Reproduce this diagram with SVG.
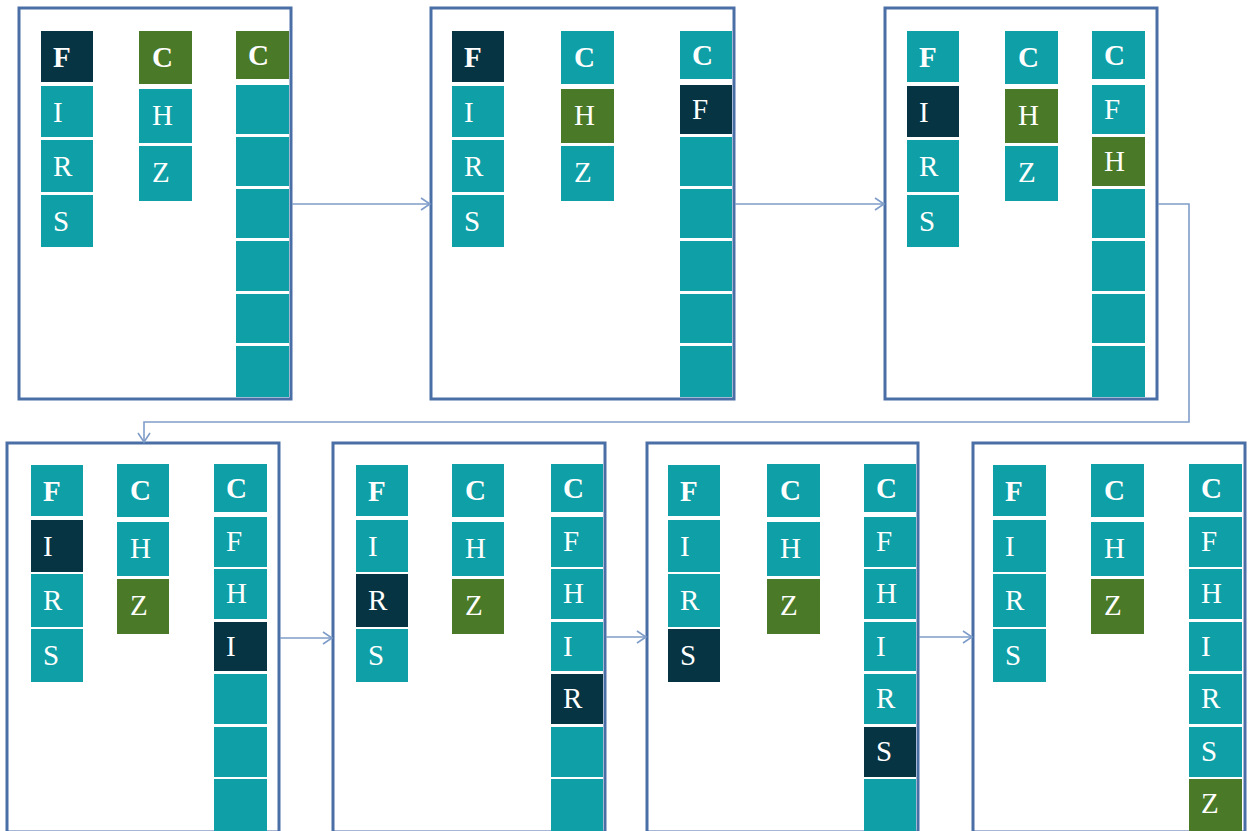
<svg xmlns="http://www.w3.org/2000/svg" width="1249" height="831" viewBox="0 0 1249 831">
<style>
.fr{fill:#fff;stroke:#4a6ea6;stroke-width:3}
.t{fill:#0f9fa6}
.d{fill:#073443}
.g{fill:#4a7a28}
.l{font-family:"Liberation Serif","DejaVu Serif",serif;font-size:29px;fill:#fff}
.b{font-weight:bold}
.cn{fill:none;stroke:#7f9dc9;stroke-width:1.6}
</style>
<defs>
<marker id="ah" markerUnits="userSpaceOnUse" markerWidth="12" markerHeight="14" refX="10" refY="7" orient="auto">
<path d="M1,1 L10,7 L1,13" fill="none" stroke="#7f9dc9" stroke-width="1.6"/>
</marker>
</defs>
<rect width="1249" height="831" fill="#fff"/>

<g id="p1">
<rect class="fr" x="19" y="8" width="272" height="391"/>
<rect class="d" x="41" y="31" width="52" height="51"/><text class="l b" x="53" y="67">F</text>
<rect class="t" x="41" y="86" width="52" height="51"/><text class="l" x="53" y="122">I</text>
<rect class="t" x="41" y="140" width="52" height="52"/><text class="l" x="53" y="176">R</text>
<rect class="t" x="41" y="195" width="52" height="52"/><text class="l" x="53" y="231">S</text>
<rect class="g" x="139" y="31" width="53" height="53"/><text class="l b" x="152" y="67">C</text>
<rect class="t" x="139" y="89" width="53" height="54"/><text class="l" x="152" y="125">H</text>
<rect class="t" x="139" y="146" width="53" height="55"/><text class="l" x="152" y="182">Z</text>
<rect class="g" x="236" y="31" width="53" height="48"/><text class="l b" x="248" y="65">C</text>
<rect class="t" x="236" y="85" width="53" height="49"/>
<rect class="t" x="236" y="137" width="53" height="49"/>
<rect class="t" x="236" y="189" width="53" height="49"/>
<rect class="t" x="236" y="241" width="53" height="50"/>
<rect class="t" x="236" y="294" width="53" height="49"/>
<rect class="t" x="236" y="346" width="53" height="51"/>
</g>

<g id="p2">
<rect class="fr" x="431" y="8" width="303" height="391"/>
<rect class="d" x="452" y="31" width="52" height="51"/><text class="l b" x="464" y="67">F</text>
<rect class="t" x="452" y="86" width="52" height="51"/><text class="l" x="464" y="122">I</text>
<rect class="t" x="452" y="140" width="52" height="52"/><text class="l" x="464" y="176">R</text>
<rect class="t" x="452" y="195" width="52" height="52"/><text class="l" x="464" y="231">S</text>
<rect class="t" x="561" y="31" width="53" height="53"/><text class="l b" x="574" y="67">C</text>
<rect class="g" x="561" y="89" width="53" height="54"/><text class="l" x="574" y="125">H</text>
<rect class="t" x="561" y="146" width="53" height="55"/><text class="l" x="574" y="182">Z</text>
<rect class="t" x="680" y="31" width="52" height="48"/><text class="l b" x="692" y="65">C</text>
<rect class="d" x="680" y="85" width="52" height="49"/><text class="l" x="692" y="119">F</text>
<rect class="t" x="680" y="137" width="52" height="49"/>
<rect class="t" x="680" y="189" width="52" height="49"/>
<rect class="t" x="680" y="241" width="52" height="50"/>
<rect class="t" x="680" y="294" width="52" height="49"/>
<rect class="t" x="680" y="346" width="52" height="51"/>
</g>

<g id="p3">
<rect class="fr" x="885" y="8" width="272" height="391"/>
<rect class="t" x="907" y="31" width="52" height="51"/><text class="l b" x="919" y="67">F</text>
<rect class="d" x="907" y="86" width="52" height="51"/><text class="l" x="919" y="122">I</text>
<rect class="t" x="907" y="140" width="52" height="52"/><text class="l" x="919" y="176">R</text>
<rect class="t" x="907" y="195" width="52" height="52"/><text class="l" x="919" y="231">S</text>
<rect class="t" x="1005" y="31" width="53" height="53"/><text class="l b" x="1018" y="67">C</text>
<rect class="g" x="1005" y="89" width="53" height="54"/><text class="l" x="1018" y="125">H</text>
<rect class="t" x="1005" y="146" width="53" height="55"/><text class="l" x="1018" y="182">Z</text>
<rect class="t" x="1092" y="31" width="53" height="48"/><text class="l b" x="1104" y="65">C</text>
<rect class="t" x="1092" y="85" width="53" height="49"/><text class="l" x="1104" y="119">F</text>
<rect class="g" x="1092" y="137" width="53" height="49"/><text class="l" x="1104" y="171">H</text>
<rect class="t" x="1092" y="189" width="53" height="49"/>
<rect class="t" x="1092" y="241" width="53" height="50"/>
<rect class="t" x="1092" y="294" width="53" height="49"/>
<rect class="t" x="1092" y="346" width="53" height="51"/>
</g>

<g id="p4">
<rect class="fr" x="7" y="443" width="272" height="389"/>
<rect class="t" x="31" y="465" width="52" height="51"/><text class="l b" x="43" y="501">F</text>
<rect class="d" x="31" y="520" width="52" height="52"/><text class="l" x="43" y="556">I</text>
<rect class="t" x="31" y="574" width="52" height="53"/><text class="l" x="43" y="610">R</text>
<rect class="t" x="31" y="629" width="52" height="53"/><text class="l" x="43" y="665">S</text>
<rect class="t" x="117" y="464" width="52" height="53"/><text class="l b" x="130" y="500">C</text>
<rect class="t" x="117" y="522" width="52" height="54"/><text class="l" x="130" y="558">H</text>
<rect class="g" x="117" y="579" width="52" height="55"/><text class="l" x="130" y="615">Z</text>
<rect class="t" x="214" y="464" width="53" height="48"/><text class="l b" x="226" y="498">C</text>
<rect class="t" x="214" y="517" width="53" height="50"/><text class="l" x="226" y="551">F</text>
<rect class="t" x="214" y="569" width="53" height="50"/><text class="l" x="226" y="603">H</text>
<rect class="d" x="214" y="622" width="53" height="49"/><text class="l" x="226" y="656">I</text>
<rect class="t" x="214" y="674" width="53" height="50"/>
<rect class="t" x="214" y="727" width="53" height="50"/>
<rect class="t" x="214" y="779" width="53" height="55"/>
</g>

<g id="p5">
<rect class="fr" x="333" y="443" width="272" height="389"/>
<rect class="t" x="356" y="465" width="52" height="51"/><text class="l b" x="368" y="501">F</text>
<rect class="t" x="356" y="520" width="52" height="52"/><text class="l" x="368" y="556">I</text>
<rect class="d" x="356" y="574" width="52" height="53"/><text class="l" x="368" y="610">R</text>
<rect class="t" x="356" y="629" width="52" height="53"/><text class="l" x="368" y="665">S</text>
<rect class="t" x="452" y="464" width="52" height="53"/><text class="l b" x="465" y="500">C</text>
<rect class="t" x="452" y="522" width="52" height="54"/><text class="l" x="465" y="558">H</text>
<rect class="g" x="452" y="579" width="52" height="55"/><text class="l" x="465" y="615">Z</text>
<rect class="t" x="551" y="464" width="52" height="48"/><text class="l b" x="563" y="498">C</text>
<rect class="t" x="551" y="517" width="52" height="50"/><text class="l" x="563" y="551">F</text>
<rect class="t" x="551" y="569" width="52" height="50"/><text class="l" x="563" y="603">H</text>
<rect class="t" x="551" y="622" width="52" height="49"/><text class="l" x="563" y="656">I</text>
<rect class="d" x="551" y="674" width="52" height="50"/><text class="l" x="563" y="708">R</text>
<rect class="t" x="551" y="727" width="52" height="50"/>
<rect class="t" x="551" y="779" width="52" height="55"/>
</g>

<g id="p6">
<rect class="fr" x="647" y="443" width="271" height="389"/>
<rect class="t" x="668" y="465" width="52" height="51"/><text class="l b" x="680" y="501">F</text>
<rect class="t" x="668" y="520" width="52" height="52"/><text class="l" x="680" y="556">I</text>
<rect class="t" x="668" y="574" width="52" height="53"/><text class="l" x="680" y="610">R</text>
<rect class="d" x="668" y="629" width="52" height="53"/><text class="l" x="680" y="665">S</text>
<rect class="t" x="767" y="464" width="53" height="53"/><text class="l b" x="780" y="500">C</text>
<rect class="t" x="767" y="522" width="53" height="54"/><text class="l" x="780" y="558">H</text>
<rect class="g" x="767" y="579" width="53" height="55"/><text class="l" x="780" y="615">Z</text>
<rect class="t" x="864" y="464" width="52" height="48"/><text class="l b" x="876" y="498">C</text>
<rect class="t" x="864" y="517" width="52" height="50"/><text class="l" x="876" y="551">F</text>
<rect class="t" x="864" y="569" width="52" height="50"/><text class="l" x="876" y="603">H</text>
<rect class="t" x="864" y="622" width="52" height="49"/><text class="l" x="876" y="656">I</text>
<rect class="t" x="864" y="674" width="52" height="50"/><text class="l" x="876" y="708">R</text>
<rect class="d" x="864" y="727" width="52" height="50"/><text class="l" x="876" y="761">S</text>
<rect class="t" x="864" y="779" width="52" height="55"/>
</g>

<g id="p7">
<rect class="fr" x="973" y="443" width="272" height="389"/>
<rect class="t" x="993" y="465" width="53" height="51"/><text class="l b" x="1005" y="501">F</text>
<rect class="t" x="993" y="520" width="53" height="52"/><text class="l" x="1005" y="556">I</text>
<rect class="t" x="993" y="574" width="53" height="53"/><text class="l" x="1005" y="610">R</text>
<rect class="t" x="993" y="629" width="53" height="53"/><text class="l" x="1005" y="665">S</text>
<rect class="t" x="1091" y="464" width="53" height="53"/><text class="l b" x="1104" y="500">C</text>
<rect class="t" x="1091" y="522" width="53" height="54"/><text class="l" x="1104" y="558">H</text>
<rect class="g" x="1091" y="579" width="53" height="55"/><text class="l" x="1104" y="615">Z</text>
<rect class="t" x="1189" y="464" width="53" height="48"/><text class="l b" x="1201" y="498">C</text>
<rect class="t" x="1189" y="517" width="53" height="50"/><text class="l" x="1201" y="551">F</text>
<rect class="t" x="1189" y="569" width="53" height="50"/><text class="l" x="1201" y="603">H</text>
<rect class="t" x="1189" y="622" width="53" height="49"/><text class="l" x="1201" y="656">I</text>
<rect class="t" x="1189" y="674" width="53" height="50"/><text class="l" x="1201" y="708">R</text>
<rect class="t" x="1189" y="727" width="53" height="50"/><text class="l" x="1201" y="761">S</text>
<rect class="g" x="1189" y="779" width="53" height="52"/><text class="l" x="1201" y="813">Z</text>
</g>

<g id="connectors">
<path class="cn" d="M292,204 H430" marker-end="url(#ah)"/>
<path class="cn" d="M735,204 H884" marker-end="url(#ah)"/>
<path class="cn" d="M1158,204 H1189 V422 H144 V442" marker-end="url(#ah)"/>
<path class="cn" d="M280,638 H332" marker-end="url(#ah)"/>
<path class="cn" d="M606,637 H646" marker-end="url(#ah)"/>
<path class="cn" d="M919,637 H972" marker-end="url(#ah)"/>
</g>
</svg>
